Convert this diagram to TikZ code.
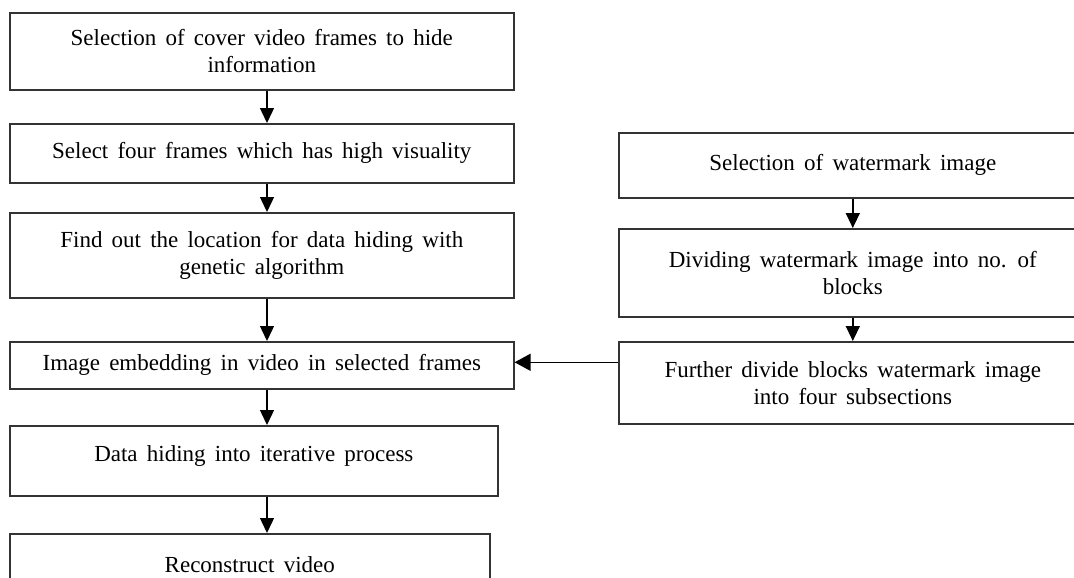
\documentclass[tikz,border=0pt]{standalone}
\usepackage{fontspec}
\setmainfont{Liberation Serif}[WordSpace=1.6]
\usetikzlibrary{arrows.meta}

\begin{document}
\begin{tikzpicture}[x=1pt,y=-1pt,
every node/.style={font=\fontsize{23}{27}\selectfont},
stepbox/.style={draw=black!80, line width=1.6pt, anchor=north west, align=center, inner sep=0pt},
flow/.style={-{Triangle[length=15pt,width=14pt]}, line width=1.4pt}]
\useasboundingbox (0,0) rectangle (1074,578);

%left column: hiding in the cover video
\node[stepbox, minimum width=504pt, minimum height=77pt] (cover) at (9,12) {Selection of cover video frames to hide\\information};
\node[stepbox, minimum width=504pt, minimum height=59pt] (frames) at (9,123) {Select four frames which has high visuality};
\node[stepbox, minimum width=504pt, minimum height=85pt] (locate) at (9,212) {Find out the location for data hiding with\\genetic algorithm};
\node[stepbox, minimum width=504pt, minimum height=47pt] (embed) at (9,341) {Image embedding in video in selected frames};
\node[stepbox, minimum width=488pt, minimum height=70pt, text depth=14pt] (iter) at (9,425) {Data hiding into iterative process};
\node[stepbox, minimum width=480pt, minimum height=62pt] (recon) at (9,533) {Reconstruct video};

%right column: the watermark
\node[stepbox, minimum width=468pt, minimum height=65pt] (wmark) at (618,132) {Selection of watermark image};
\node[stepbox, minimum width=468pt, minimum height=88pt] (divide) at (618,228) {Dividing watermark image into no. of\\blocks};
\node[stepbox, minimum width=468pt, minimum height=82pt] (subsec) at (618,341) {Further divide blocks watermark image\\into four subsections};

\coordinate (lx) at (267,0);
\foreach \a/\b in {cover/frames,frames/locate,locate/embed,embed/iter,iter/recon}
	\draw[flow] (\a.south -| lx) -- (\b.north -| lx);
\foreach \a/\b in {wmark/divide,divide/subsec}
	\draw[flow] (\a.south) -- (\b.north);
%joining arrow, a little bigger head
\draw[flow, -{Triangle[length=16pt,width=17pt]}] ([yshift=3pt]subsec.west |- embed.east) -- ([yshift=3pt]embed.east);
\end{tikzpicture}
\end{document}
